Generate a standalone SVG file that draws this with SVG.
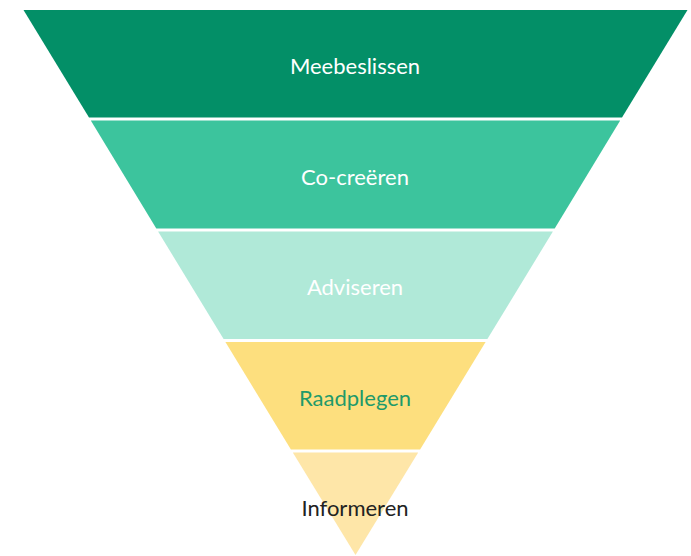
<svg xmlns="http://www.w3.org/2000/svg" width="691" height="556" viewBox="0 0 691 556">
<style>
.lbl{font-family:Lato,"Open Sans","Liberation Sans",sans-serif;font-size:22px;text-anchor:middle}
</style>
<rect width="691" height="556" fill="#ffffff"/>
<g id="band-meebeslissen">
<polygon points="23.5,10 687.5,10 622,117.5 89,117.5" fill="#038F67"/>
<text class="lbl" x="355" y="74" fill="#ffffff">Meebeslissen</text>
</g>
<g id="band-co-creeren">
<polygon points="90.8,120.5 620.2,120.5 554.7,228.5 156.3,228.5" fill="#3CC49D"/>
<text class="lbl" x="355" y="185" fill="#ffffff">Co-creëren</text>
</g>
<g id="band-adviseren">
<polygon points="158.1,231.5 552.9,231.5 487.4,339 223.6,339" fill="#B0E9D8"/>
<text class="lbl" x="355" y="295" fill="#ffffff">Adviseren</text>
</g>
<g id="band-raadplegen">
<polygon points="225.4,342 485.6,342 420.1,449.5 290.9,449.5" fill="#FDDF7E"/>
<text class="lbl" x="355" y="406" fill="#1E9A6A">Raadplegen</text>
</g>
<g id="band-informeren">
<polygon points="292.8,452.5 418.2,452.5 355.5,555" fill="#FEE6A8"/>
<text class="lbl" x="355" y="516" fill="#222222">Informeren</text>
</g>
<g id="connectors"></g>
</svg>
